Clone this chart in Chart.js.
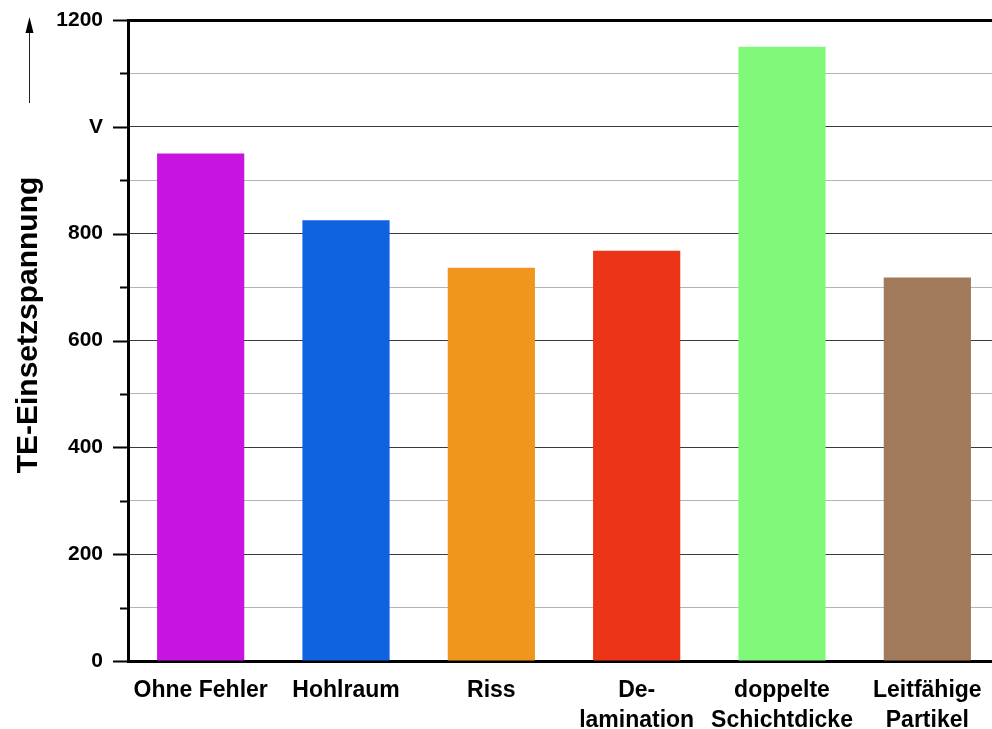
<!DOCTYPE html>
<html lang="de">
<head>
<meta charset="utf-8">
<title>TE-Einsetzspannung</title>
<script src="https://cdn.jsdelivr.net/npm/chart.js@4/dist/chart.umd.min.js"></script>
<style>
  html, body { margin: 0; padding: 0; overflow: hidden; background: #fff; }
  #wrap { width: 1010px; height: 729px; }
</style>
</head>
<body>
<div id="wrap"><canvas id="c" width="1010" height="729"></canvas></div>
<script>
// Fehlerarten (mehrzeilige Beschriftung als Zeilen-Arrays)
const categories = [
  ['Ohne Fehler'],
  ['Hohlraum'],
  ['Riss'],
  ['De-', 'lamination'],
  ['doppelte', 'Schichtdicke'],
  ['Leitfähige', 'Partikel']
];
// TE-Einsetzspannung in V
const voltages = [950, 825, 736, 768, 1150, 718];
const barColors = ['#c814e0', '#0f62e0', '#f0961e', '#ec3418', '#80f87a', '#a07a5a'];
// Beschriftete Hauptticks; bei 1000 steht die Einheit
const majorTickLabels = { 0: '0', 200: '200', 400: '400', 600: '600', 800: '800', 1000: 'V', 1200: '1200' };
const yTitle = 'TE-Einsetzspannung';

const FONT = "'Liberation Sans', Arial, sans-serif";

// Tickstriche (lang/kurz), Achsentitel und Pfeil
const decorations = {
  id: 'decorations',
  afterDraw(chart) {
    const { ctx, scales: { y }, chartArea } = chart;
    ctx.save();
    ctx.strokeStyle = '#000';
    ctx.lineWidth = 2;
    y.ticks.forEach(t => {
      const py = Math.round(y.getPixelForValue(t.value)) + 0.5;
      const len = (t.value % 200 === 0) ? 15 : 8;
      ctx.beginPath();
      ctx.moveTo(chartArea.left - len, py);
      ctx.lineTo(chartArea.left, py);
      ctx.stroke();
    });
    // Achsentitel
    ctx.fillStyle = '#000';
    ctx.font = 'bold 30px ' + FONT;
    ctx.textAlign = 'center';
    ctx.textBaseline = 'alphabetic';
    ctx.translate(37, 325);
    ctx.rotate(-Math.PI / 2);
    ctx.fillText(yTitle, 0, 0);
    ctx.restore();
    // Pfeil nach oben
    ctx.save();
    ctx.strokeStyle = '#222';
    ctx.lineWidth = 1;
    ctx.beginPath();
    ctx.moveTo(29.5, 103);
    ctx.lineTo(29.5, 30);
    ctx.stroke();
    ctx.fillStyle = '#000';
    ctx.beginPath();
    ctx.moveTo(29.5, 17);
    ctx.lineTo(25.5, 33);
    ctx.lineTo(33.5, 33);
    ctx.closePath();
    ctx.fill();
    ctx.restore();
  }
};

new Chart(document.getElementById('c'), {
  type: 'bar',
  data: {
    labels: categories,
    datasets: [{
      data: voltages,
      backgroundColor: barColors,
      borderWidth: 0,
      barPercentage: 0.6,
      categoryPercentage: 1.0
    }]
  },
  options: {
    responsive: false,
    animation: false,
    layout: { padding: { top: 20, right: 10, left: 0, bottom: 0 } },
    plugins: { legend: { display: false }, tooltip: { enabled: false } },
    scales: {
      x: {
        grid: { display: false, drawTicks: false },
        border: { display: true, color: '#000', width: 3 },
        ticks: {
          color: '#000',
          padding: 15,
          maxRotation: 0,
          autoSkip: false,
          font: { family: FONT, size: 23, weight: 'bold', lineHeight: 1.3 }
        },
        afterFit(scale) {
          scale.height = 68;
          scale.paddingLeft = 0;
          scale.paddingRight = 0;
        }
      },
      y: {
        min: 0,
        max: 1200,
        grid: {
          drawTicks: false,
          color: ctx => {
            const v = ctx.tick ? ctx.tick.value : 0;
            if (v === 1200) return '#000';
            return v % 200 === 0 ? '#3a3a3a' : '#b4b4b4';
          },
          lineWidth: ctx => (ctx.tick && ctx.tick.value === 1200) ? 3 : 1
        },
        border: { display: true, color: '#000', width: 3 },
        ticks: {
          stepSize: 100,
          color: '#000',
          padding: 25,
          autoSkip: false,
          font: { family: FONT, size: 21, weight: 'bold' },
          callback: v => (majorTickLabels[v] !== undefined ? majorTickLabels[v] : '')
        },
        afterFit(scale) {
          scale.width = 128;
          scale.paddingTop = 0;
          scale.paddingBottom = 0;
        }
      }
    }
  },
  plugins: [decorations]
});
</script>
</body>
</html>
